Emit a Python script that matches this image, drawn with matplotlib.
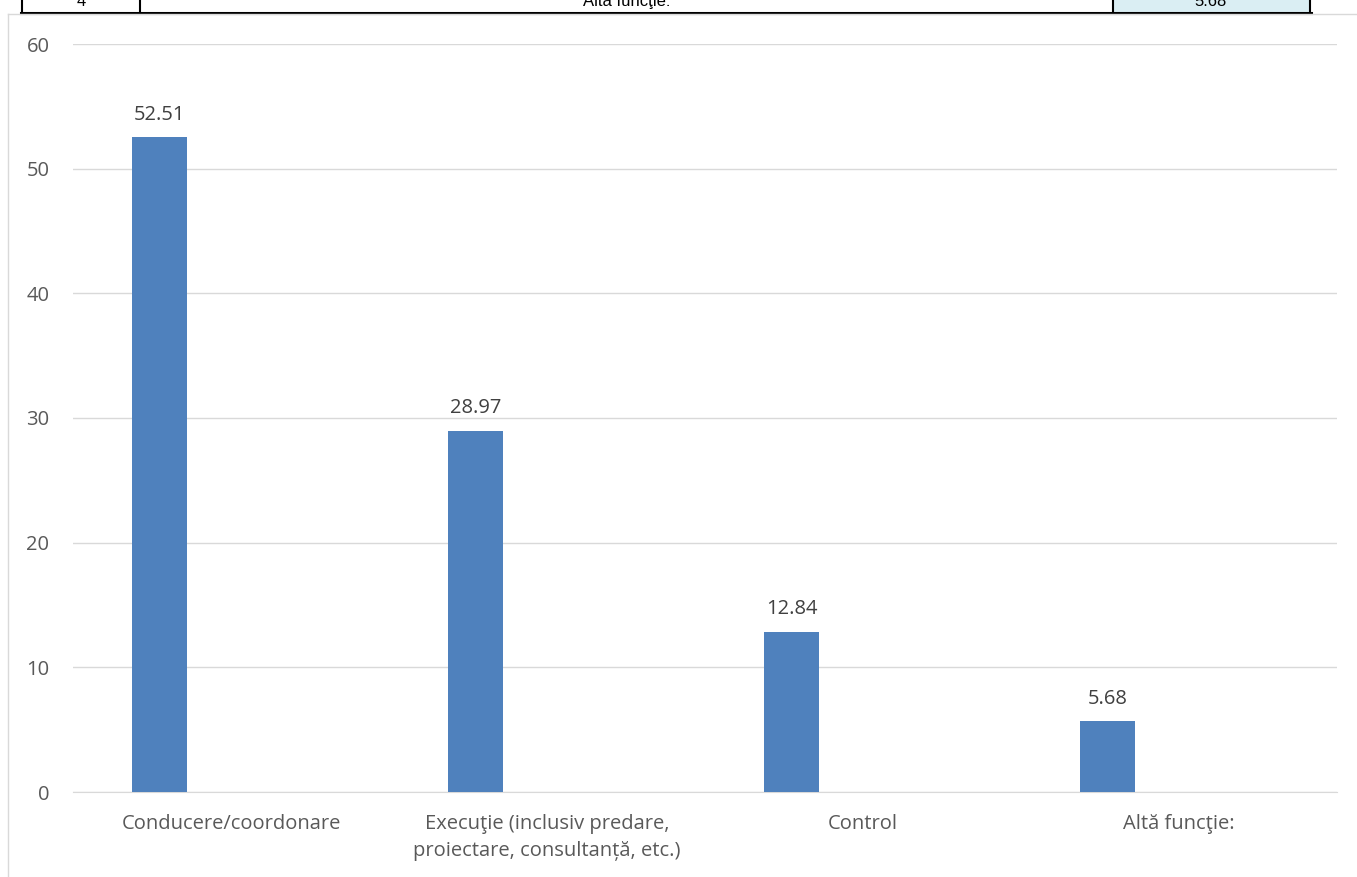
import matplotlib.pyplot as plt
from matplotlib.lines import Line2D
from matplotlib.patches import Rectangle

categories = [
    "Conducere/coordonare",
    "Execuţie (inclusiv predare,\nproiectare, consultanță, etc.)",
    "Control",
    "Altă funcţie:",
]
values = [52.51, 28.97, 12.84, 5.68]
yticks = [0, 10, 20, 30, 40, 50, 60]

# fragment of the table above the chart (cut off at the page edge)
table_row = ["4", "Altă funcţie:", "5.68"]

W, H = 1357, 877
plt.rcParams["font.family"] = ["Open Sans", "DejaVu Sans"]
fig = plt.figure(figsize=(W / 100, H / 100), dpi=100)


def fx(px):
    return px / W


def fy(py):
    return 1 - py / H


# table fragment
fig.patches.append(Rectangle((fx(1113), fy(12)), fx(1310) - fx(1113), fy(0) - fy(12),
                             transform=fig.transFigure, facecolor="#daeef3", edgecolor="none"))
for x in [22, 140, 1113, 1310]:
    fig.add_artist(Line2D([fx(x), fx(x)], [fy(13), fy(-1)], color="black", lw=1.5))
fig.add_artist(Line2D([fx(21), fx(1311)], [fy(13), fy(13)], color="black", lw=2.2))
for x, txt in zip([81, 627, 1211], table_row):
    fig.text(fx(x), fy(6), txt, ha="center", va="baseline", fontsize=12,
             family=["Liberation Sans", "DejaVu Sans"], color="black")

# chart area border
fig.add_artist(Line2D([fx(8), fx(W)], [fy(14), fy(14)], color="#d9d9d9", lw=1))
fig.add_artist(Line2D([fx(8), fx(8)], [fy(14), fy(H)], color="#d9d9d9", lw=1))

ax = fig.add_axes([fx(73), fy(792), fx(1337) - fx(73), fy(44) - fy(792)])
xs = list(range(len(categories)))
bar_x = [x - 0.225 for x in xs]
bars = ax.bar(bar_x, values, width=0.174, color="#4f81bd", zorder=3)
for rect, v in zip(bars, values):
    ax.annotate(f"{v:.2f}", (rect.get_x() + rect.get_width() / 2, v),
                xytext=(0, 9), textcoords="offset points", ha="center", va="bottom",
                fontsize=14.5, color="#404040")

ax.set_xlim(-0.5, len(categories) - 0.5)
ax.set_ylim(0, 60)
ax.set_yticks(yticks)
ax.set_xticks(xs)
ax.set_xticklabels(categories, fontsize=14.5, color="#595959", linespacing=1.45)
ax.tick_params(axis="y", labelsize=14.5, labelcolor="#595959", length=0, pad=17)
ax.tick_params(axis="x", length=0, pad=16)
ax.grid(axis="y", color="#d9d9d9", lw=1, zorder=0)
for side in ["top", "right", "left"]:
    ax.spines[side].set_visible(False)
ax.spines["bottom"].set_color("#d9d9d9")

fig.savefig("out.png", dpi=100)
